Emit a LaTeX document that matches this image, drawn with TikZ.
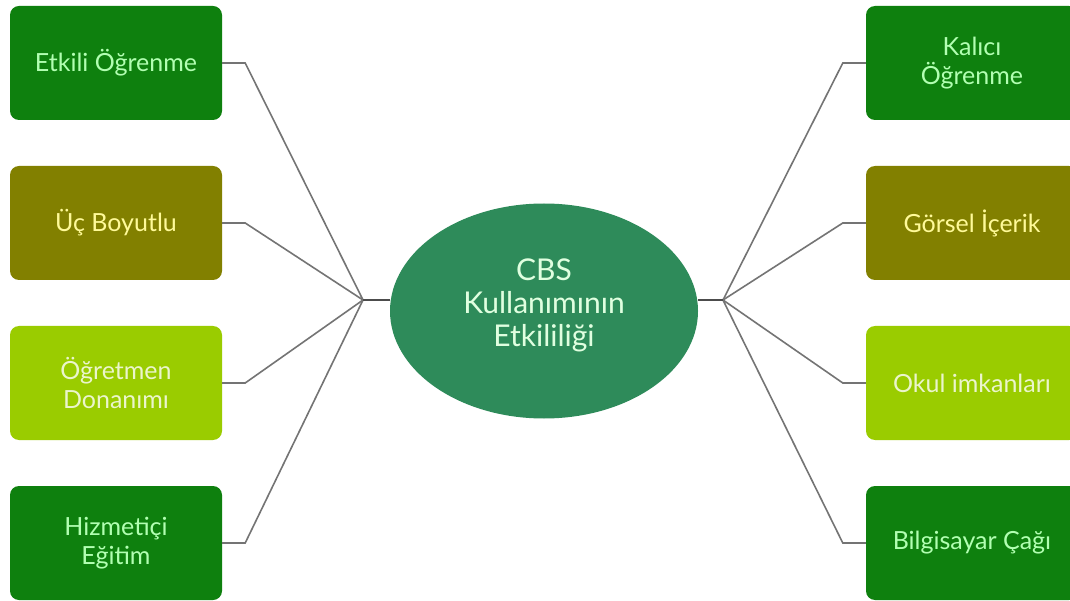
\documentclass[tikz,border=0pt]{standalone}
\usepackage{fontspec}
\setmainfont{Lato}
\usetikzlibrary{shapes.geometric}
\definecolor{dgreen}{HTML}{0E800E}
\definecolor{olivebox}{HTML}{828000}
\definecolor{lgreen}{HTML}{9ACC00}
\definecolor{cbsgreen}{HTML}{2E8B5A}
\definecolor{linkgray}{HTML}{747474}
\tikzset{
  box/.style={rectangle, rounded corners=9pt, minimum width=212pt, minimum height=114pt,
    align=center, font=\fontsize{25}{29}\selectfont, inner sep=0pt},
  darkbox/.style={box, fill=dgreen, text=green!30!white},
  olivebx/.style={box, fill=olivebox, text=yellow!40!white},
  lightbox/.style={box, fill=lgreen, text=lgreen!20!white},
  link/.style={draw=linkgray, line width=1.6pt},
  hub/.style={draw=black!70, line width=2.4pt}
}
\begin{document}
\begin{tikzpicture}[x=1pt,y=-1pt]
\useasboundingbox (0,0) rectangle (1070,601);
\clip (0,0) rectangle (1070,601);
\fill[white] (0,0) rectangle (1070,601);
% centre
\node[ellipse, fill=cbsgreen, minimum width=308pt, minimum height=215pt, inner sep=0pt] (cbs) at (544,311) {};
\node[align=center, text=green!12!white, font=\fontsize{30}{33}\selectfont] (cbstext) at (544,305)
  {CBS\\Kullanımının\\Etkililiği};
\coordinate (jl) at (363,300);
\coordinate (jr) at (723,300);
% left column
\node[darkbox] (etkili) at (116,63) {Etkili Öğrenme};
\node[olivebx] (ucboy) at (116,223) {Üç Boyutlu};
\node[lightbox] (ogrdon) at (116,383) {Öğretmen\\Donanımı};
\node[darkbox] (hizmet) at (116,543) {Hizmetiçi\\Eğitim};
% right column
\node[darkbox] (kalici) at (972,63) {Kalıcı\\Öğrenme};
\node[olivebx] (gorsel) at (972,223) {Görsel İçerik};
\node[lightbox] (okul) at (972,383) {Okul imkanları};
\node[darkbox] (bilgi) at (972,543) {Bilgisayar Çağı};
% connectors
\foreach \n in {etkili,ucboy,ogrdon,hizmet}
  \draw[link] (\n.east) -- ++(23,0) -- (jl);
\foreach \n in {kalici,gorsel,okul,bilgi}
  \draw[link] (\n.west) -- ++(-23,0) -- (jr);
\draw[hub] (jl) -- (jl -| cbs.west);
\draw[hub] (jr) -- (jr -| cbs.east);
\end{tikzpicture}
\end{document}
